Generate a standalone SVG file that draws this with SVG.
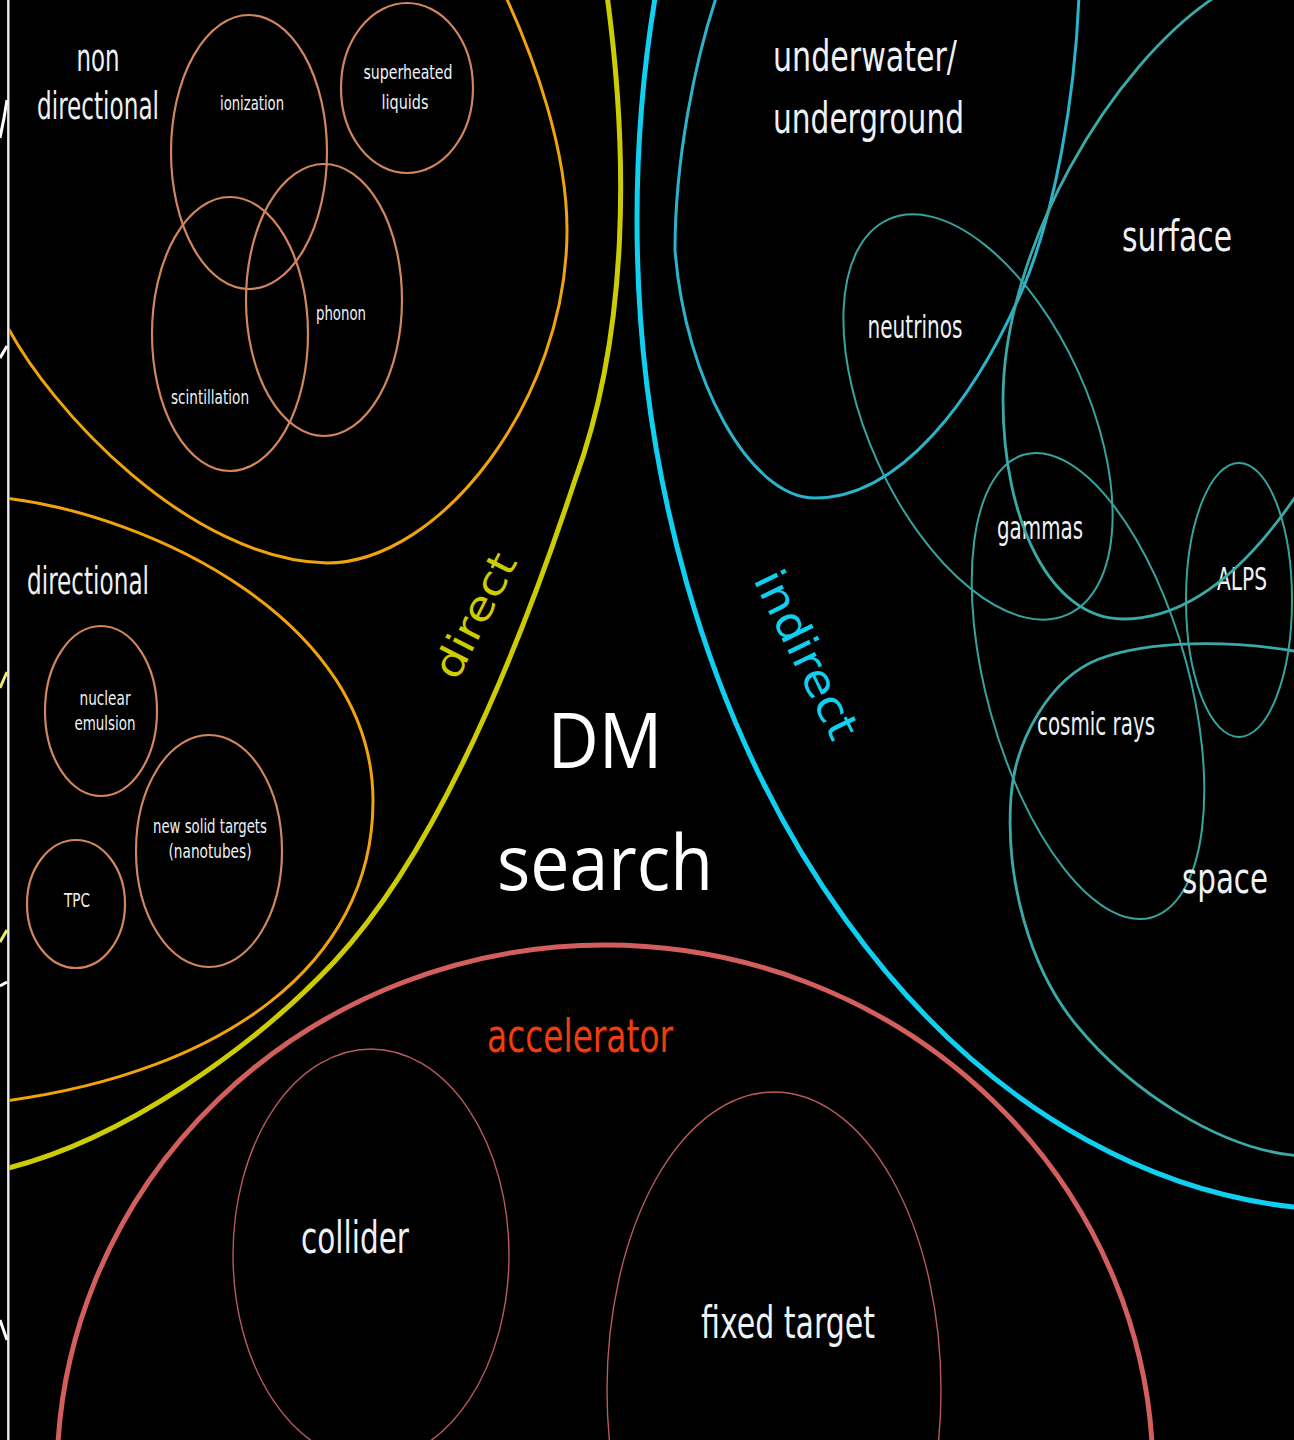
<svg xmlns="http://www.w3.org/2000/svg" width="1294" height="1440" viewBox="0 0 1294 1440">
<style>
.lbl{font-family:"DejaVu Sans Condensed","DejaVu Sans",sans-serif;fill:#eef1f5;text-anchor:middle}
.tiny{font-size:20px}
.mid{font-size:32px}
.big{font-size:42px}
.sub{fill:none;stroke:#d1865d;stroke-width:2.2}
.teal{fill:none;stroke:#37a39f;stroke-width:2}
.tealw{fill:none;stroke:#3aaaa6;stroke-width:2.8}
.acc{fill:none;stroke:#b85a5a;stroke-width:1.4}
.frag{fill:none;stroke-width:3;stroke-linecap:butt}
</style>
<defs>
  <clipPath id="panel"><rect x="9.4" y="0" width="1290" height="1440"/></clipPath>
</defs>
<rect x="0" y="0" width="1294" height="1440" fill="#000"/>

<g id="edge">
  <line x1="8.3" y1="0" x2="8.3" y2="1440" stroke="#ececec" stroke-width="2.4"/>
  <polyline class="frag" stroke="#ffffff" points="0,138 4,118 7,100"/>
  <line class="frag" stroke="#ffffff" x1="0" y1="358" x2="7" y2="346"/>
  <line class="frag" stroke="#ecec70" stroke-width="4" x1="0" y1="688" x2="7" y2="672"/>
  <line class="frag" stroke="#ecec70" stroke-width="4" x1="0" y1="942" x2="7" y2="930"/>
  <line class="frag" stroke="#ffffff" x1="0" y1="986" x2="7" y2="982"/>
  <line class="frag" stroke="#ffffff" x1="0" y1="1320" x2="7" y2="1340"/>
</g>

<g clip-path="url(#panel)">
<g id="direct">
  <path d="M607,-5 C628,150 630,330 575,480 C532,610 448,840 334,962 C256,1045 122,1142 0,1170" fill="none" stroke="#cccc00" stroke-width="5"/>
  <text class="lbl" font-size="40" style="fill:#cccc00" transform="translate(474,615) rotate(-63)" x="0" y="15" textLength="135" lengthAdjust="spacingAndGlyphs">direct</text>

  <g id="non-directional">
    <path d="M505,-5 C535,60 567,150 567,230 C567,400 440,563 327,563 C190,560 50,410 5,322" fill="none" stroke="#f0a30a" stroke-width="3"/>
    <text class="lbl" font-size="37" x="98" y="71" textLength="43" lengthAdjust="spacingAndGlyphs">non</text>
    <text class="lbl" font-size="37" x="98" y="119" textLength="122" lengthAdjust="spacingAndGlyphs">directional</text>
    <g id="ionization">
      <ellipse class="sub" cx="249" cy="152" rx="78" ry="137"/>
      <text class="lbl tiny" x="252" y="110" textLength="64" lengthAdjust="spacingAndGlyphs">ionization</text>
    </g>
    <g id="superheated-liquids">
      <ellipse class="sub" cx="407" cy="88" rx="66" ry="85"/>
      <text class="lbl tiny" x="408" y="79" textLength="89" lengthAdjust="spacingAndGlyphs">superheated</text>
      <text class="lbl tiny" x="405" y="109" textLength="47" lengthAdjust="spacingAndGlyphs">liquids</text>
    </g>
    <g id="phonon">
      <ellipse class="sub" cx="324" cy="300" rx="78" ry="136"/>
      <text class="lbl tiny" x="341" y="320" textLength="50" lengthAdjust="spacingAndGlyphs">phonon</text>
    </g>
    <g id="scintillation">
      <ellipse class="sub" cx="230" cy="334" rx="78" ry="137"/>
      <text class="lbl tiny" x="210" y="404" textLength="78" lengthAdjust="spacingAndGlyphs">scintillation</text>
    </g>
  </g>

  <g id="directional">
    <path d="M5,498 C150,515 373,620 373,801 C373,965 222,1072 5,1101" fill="none" stroke="#f0a30a" stroke-width="3"/>
    <text class="lbl" font-size="37" x="88" y="594" textLength="122" lengthAdjust="spacingAndGlyphs">directional</text>
    <g id="nuclear-emulsion">
      <ellipse class="sub" cx="101" cy="711" rx="56" ry="85"/>
      <text class="lbl tiny" x="105" y="705" textLength="51" lengthAdjust="spacingAndGlyphs">nuclear</text>
      <text class="lbl tiny" x="105" y="730" textLength="61" lengthAdjust="spacingAndGlyphs">emulsion</text>
    </g>
    <g id="new-solid-targets">
      <ellipse class="sub" cx="209" cy="851" rx="73" ry="116"/>
      <text class="lbl tiny" x="210" y="833" textLength="114" lengthAdjust="spacingAndGlyphs">new solid targets</text>
      <text class="lbl tiny" x="210" y="858" textLength="83" lengthAdjust="spacingAndGlyphs">(nanotubes)</text>
    </g>
    <g id="tpc">
      <ellipse class="sub" cx="76" cy="904" rx="49" ry="64"/>
      <text class="lbl tiny" x="77" y="907" textLength="26" lengthAdjust="spacingAndGlyphs">TPC</text>
    </g>
  </g>
</g>

<g id="indirect">
  <ellipse cx="1350" cy="220" rx="713" ry="990" fill="none" stroke="#10d0f2" stroke-width="5"/>
  <text class="lbl" font-size="44" style="fill:#10d0f2" transform="translate(807,654) rotate(64)" x="0" y="16" textLength="182" lengthAdjust="spacingAndGlyphs">indirect</text>

  <g id="neutrinos">
    <ellipse class="teal" cx="978" cy="417" rx="217" ry="110" transform="rotate(65.5 978 417)"/>
    <text class="lbl mid" x="915" y="338" textLength="95" lengthAdjust="spacingAndGlyphs">neutrinos</text>
  </g>
  <g id="gammas">
    <ellipse class="teal" cx="1088" cy="686" rx="240" ry="101" transform="rotate(74.65 1088 686)"/>
    <text class="lbl mid" x="1040" y="539" textLength="86" lengthAdjust="spacingAndGlyphs">gammas</text>
  </g>
  <g id="alps">
    <ellipse class="teal" cx="1239" cy="600" rx="53" ry="137"/>
    <text class="lbl mid" x="1242" y="590" textLength="50" lengthAdjust="spacingAndGlyphs">ALPS</text>
  </g>
  <g id="underwater">
    <path d="M717,-5 C695,60 675,160 675,250 C685,380 750,498 815,498 C900,498 975,400 1024,286 C1055,210 1075,100 1079,-5" fill="none" stroke="#29b4cc" stroke-width="3"/>
    <text class="lbl big" style="text-anchor:start" x="773" y="71" font-size="43" textLength="184" lengthAdjust="spacingAndGlyphs">underwater/</text>
    <text class="lbl big" style="text-anchor:start" x="773" y="133" font-size="43" textLength="191" lengthAdjust="spacingAndGlyphs">underground</text>
  </g>
  <g id="surface">
    <path class="tealw" d="M1218,-5 C1110,65 1003,250 1003,400 C1003,520 1050,619 1123,619 C1190,619 1250,565 1300,490"/>
    <text class="lbl big" x="1177" y="251" textLength="110" lengthAdjust="spacingAndGlyphs">surface</text>
  </g>
  <g id="space">
    <path class="tealw" d="M1300,652 C1230,640 1150,640 1099,659 C1050,678 1015,740 1011,797 C1005,880 1030,970 1078,1027 C1130,1090 1220,1150 1300,1156"/>
    <text class="lbl big" x="1225" y="893" textLength="86" lengthAdjust="spacingAndGlyphs">space</text>
  </g>
  <g id="cosmic-rays">
    <text class="lbl mid" x="1096" y="735" textLength="118" lengthAdjust="spacingAndGlyphs">cosmic rays</text>
  </g>
</g>

<g id="accelerator">
  <ellipse cx="605" cy="1475" rx="548" ry="530" fill="none" stroke="#d35e5e" stroke-width="5"/>
  <text class="lbl" font-size="46" style="fill:#f23c0c" x="580" y="1052" textLength="186" lengthAdjust="spacingAndGlyphs">accelerator</text>
  <g id="collider">
    <ellipse class="acc" cx="371" cy="1255" rx="138" ry="206"/>
    <text class="lbl" font-size="44" x="355" y="1253" textLength="108" lengthAdjust="spacingAndGlyphs">collider</text>
  </g>
  <g id="fixed-target">
    <ellipse class="acc" cx="774" cy="1390" rx="167" ry="298"/>
    <text class="lbl" font-size="44" x="788" y="1338" textLength="174" lengthAdjust="spacingAndGlyphs">fixed target</text>
  </g>
</g>

<g id="dm-search">
  <text font-family="'Open Sans','Noto Sans',sans-serif" font-size="77" fill="#ffffff" text-anchor="middle" x="605" y="768" textLength="115" lengthAdjust="spacingAndGlyphs">DM</text>
  <text font-family="'Open Sans','Noto Sans',sans-serif" font-size="77" fill="#ffffff" text-anchor="middle" x="605" y="890" textLength="216" lengthAdjust="spacingAndGlyphs">search</text>
</g>
</g>
</svg>
